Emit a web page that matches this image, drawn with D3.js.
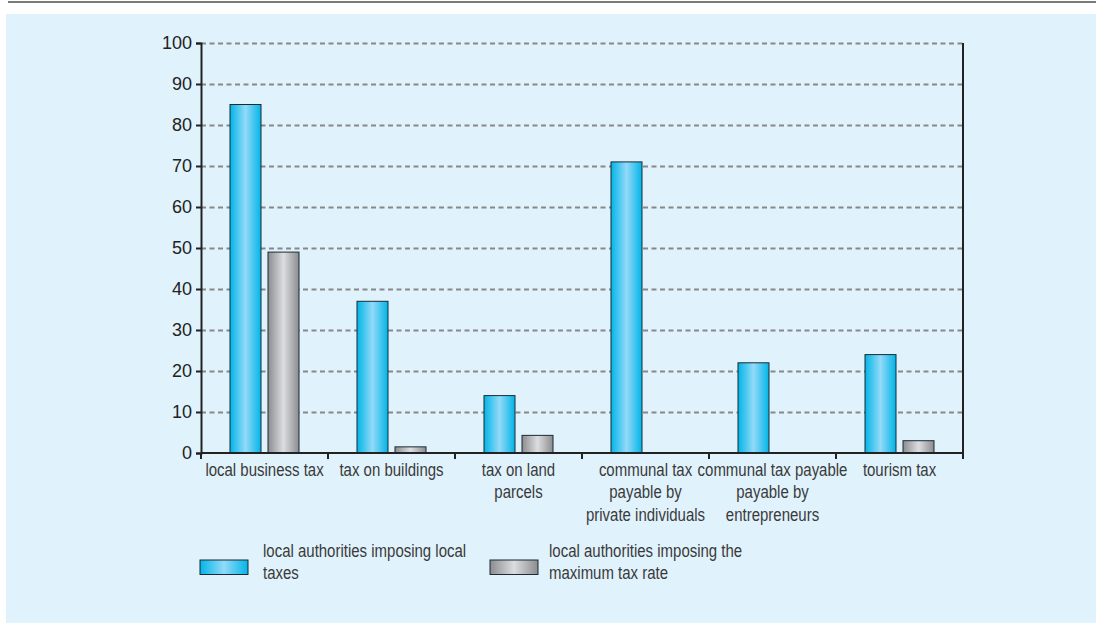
<!DOCTYPE html>
<html>
<head>
<meta charset="UTF-8">
<script src="https://cdn.jsdelivr.net/npm/d3@7"></script>
<style>
  body { margin: 0; background: #fff; }
  .tick text { fill: #222; }
  .grid line { stroke: #888; stroke-width: 2; stroke-dasharray: 5 3.5; }
  .grid path { display: none; }
  .cat, .leg { font-family: "Liberation Sans", Arial, sans-serif; fill: #3a3a3a; }
</style>
</head>
<body>
<div id="chart"></div>
<script>
// data
var categories = ["local business tax", "tax on buildings", "tax on land parcels",
  "communal tax payable by private individuals", "communal tax payable payable by entrepreneurs", "tourism tax"];
var categoryLines = [
  ["local business tax"],
  ["tax on buildings"],
  ["tax on land", "parcels"],
  ["communal tax", "payable by", "private individuals"],
  ["communal tax payable", "payable by", "entrepreneurs"],
  ["tourism tax"]
];
var seriesNames = ["local authorities imposing local taxes", "local authorities imposing the maximum tax rate"];
var legendLines = [
  ["local authorities imposing local", "taxes"],
  ["local authorities imposing the", "maximum tax rate"]
];
var localTaxes = [85, 37, 14, 71, 22, 24];
var maxRate = [49, 1.5, 4.3, null, null, 3];
var yTicks = [0, 10, 20, 30, 40, 50, 60, 70, 80, 90, 100];

var width = 1096, height = 623;
var margin = { top: 43, left: 201, right: 133, bottom: 170 };
var w = width - margin.left - margin.right,
    h = height - margin.top - margin.bottom;
var narrow = 0.81; // squeeze text horizontally, no condensed font installed

var svg = d3.select("#chart").append("svg")
  .attr("width", width)
  .attr("height", height);

// gradients for the bars
var defs = svg.append("defs");
function grad(id, edge, mid) {
  var g = defs.append("linearGradient").attr("id", id)
    .attr("x1", "0%").attr("x2", "100%").attr("y1", "0%").attr("y2", "0%");
  g.append("stop").attr("offset", "0%").attr("stop-color", edge);
  g.append("stop").attr("offset", "50%").attr("stop-color", mid);
  g.append("stop").attr("offset", "100%").attr("stop-color", edge);
}
grad("gBlue", "#00b5e8", "#93daf8");
grad("gGrey", "#8a8c8f", "#dcdddf");
var fills = ["url(#gBlue)", "url(#gGrey)"];

// page frame
svg.append("line").attr("x1", 8).attr("x2", width).attr("y1", 2).attr("y2", 2)
  .attr("stroke", "#7a7a7a").attr("stroke-width", 2);
svg.append("rect").attr("x", 6).attr("y", 14).attr("width", width - 6).attr("height", height - 14)
  .attr("fill", "#e0f2fc");

var g = svg.append("g").attr("transform", "translate(" + margin.left + "," + margin.top + ")");

var x0 = d3.scaleBand().domain(categories).range([0, w]);
var x1 = d3.scaleBand().domain(seriesNames).range([0, x0.bandwidth()])
  .paddingInner(0.184).paddingOuter(0.763);
var y = d3.scaleLinear().domain([0, 100]).range([h, 0]);

// dashed grid
g.append("g").attr("class", "grid")
  .call(d3.axisLeft(y).tickValues(yTicks.slice(1)).tickSize(-w).tickFormat(""));

// bars
var series = [localTaxes, maxRate];
categories.forEach(function (c, i) {
  series.forEach(function (s, k) {
    if (s[i] == null) return;
    g.append("rect")
      .attr("x", x0(c) + x1(seriesNames[k]))
      .attr("y", y(s[i]))
      .attr("width", x1.bandwidth())
      .attr("height", h - y(s[i]))
      .attr("fill", fills[k])
      .attr("stroke", "#1c2a33")
      .attr("stroke-width", 1);
  });
});

// y axis
var yAxis = g.append("g")
  .call(d3.axisLeft(y).tickValues(yTicks).tickSize(5).tickPadding(4));
yAxis.select(".domain").attr("stroke", "#222").attr("stroke-width", 2);
yAxis.selectAll("line").attr("stroke", "#222").attr("stroke-width", 2);
yAxis.selectAll("text").attr("font-family", "Liberation Sans, Arial, sans-serif")
  .attr("font-size", 18);

// right frame line
g.append("line").attr("x1", w).attr("x2", w).attr("y1", 0).attr("y2", h + 6)
  .attr("stroke", "#222").attr("stroke-width", 2);

// x axis with boundary ticks
g.append("line").attr("x1", 0).attr("x2", w).attr("y1", h).attr("y2", h)
  .attr("stroke", "#222").attr("stroke-width", 2);
var bounds = categories.map(function (c) { return x0(c); });
g.selectAll(".btick").data(bounds).enter().append("line")
  .attr("x1", function (d) { return d; }).attr("x2", function (d) { return d; })
  .attr("y1", h).attr("y2", h + 6)
  .attr("stroke", "#222").attr("stroke-width", 2);

// category labels
categories.forEach(function (c, i) {
  var cg = g.append("g")
    .attr("transform", "translate(" + (x0(c) + x0.bandwidth() / 2) + "," + (h + 23) + ") scale(" + narrow + ",1)");
  var t = cg.append("text").attr("class", "cat")
    .attr("text-anchor", "middle")
    .attr("font-size", 18.5);
  categoryLines[i].forEach(function (line, j) {
    t.append("tspan").attr("x", 0)
      .attr("dy", j === 0 ? 0 : 22.5).text(line);
  });
});

// legend
var legX = [200, 490];
seriesNames.forEach(function (s, k) {
  var lg = svg.append("g").attr("transform", "translate(" + legX[k] + ",560)");
  lg.append("rect").attr("width", 48).attr("height", 14.5)
    .attr("fill", fills[k]).attr("stroke", "#1c2a33").attr("stroke-width", 1);
  var tx = k ? 59 : 63;
  var t = lg.append("g").attr("transform", "translate(" + tx + ",-3) scale(" + narrow + ",1)")
    .append("text").attr("class", "leg").attr("font-size", 18.5);
  legendLines[k].forEach(function (line, j) {
    t.append("tspan").attr("x", 0).attr("dy", j === 0 ? 0 : 22).text(line);
  });
});
</script>
</body>
</html>
